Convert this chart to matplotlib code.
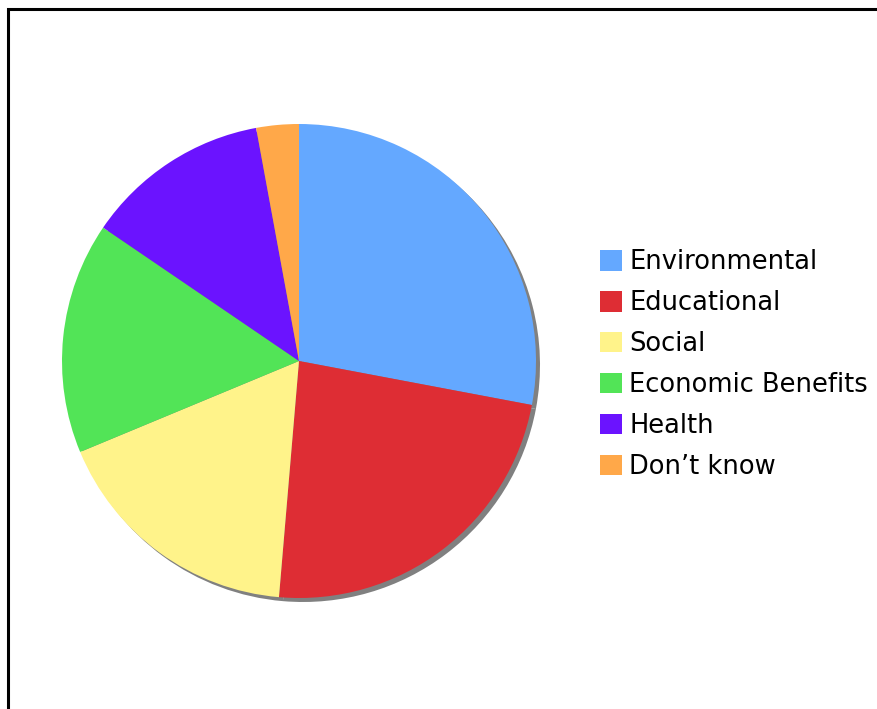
import matplotlib.pyplot as plt
from matplotlib.patches import Rectangle, Patch

# Survey answers (share of responses, %)
categories = ["Environmental", "Educational", "Social", "Economic Benefits", "Health", "Don\u2019t know"]
values = [28.0, 23.4, 17.4, 15.8, 12.6, 2.9]
colors = ["#64A8FF", "#DE2D34", "#FFF38A", "#52E457", "#6B13FF", "#FFA849"]

W, H = 877, 709
fig = plt.figure(figsize=(W / 100, H / 100), dpi=100)

# outer frame (runs off the right and bottom edges)
fig.patches.append(Rectangle((8 / W, -0.1), 2, 1 - 9 / H + 0.1, transform=fig.transFigure,
                             fill=False, edgecolor="black", linewidth=2.2))

cx, cy, r = 299, 361, 237
ax = fig.add_axes([(cx - r) / W, (H - cy - r) / H, 2 * r / W, 2 * r / H])

# drop shadow
off = 4 / r
ax.pie(values, colors=["#808080"] * len(values), startangle=90, counterclock=False,
       radius=1, center=(off, -off), wedgeprops=dict(linewidth=0), frame=True)
ax.pie(values, colors=colors, startangle=90, counterclock=False,
       radius=1, wedgeprops=dict(linewidth=0), frame=True)
ax.set_xlim(-1, 1)
ax.set_ylim(-1, 1)
ax.set_aspect("equal")
ax.axis("off")

handles = [Patch(facecolor=c, edgecolor="none") for c in colors]
fig.legend(handles, categories, loc="center left", bbox_to_anchor=(600 / W, 1 - 364.5 / H),
           frameon=False, fontsize=18.5, handlelength=0.86, handleheight=0.86,
           handletextpad=0.27, labelspacing=0.58, borderpad=0, borderaxespad=0)

fig.savefig("out.png", dpi=100, facecolor="white")
